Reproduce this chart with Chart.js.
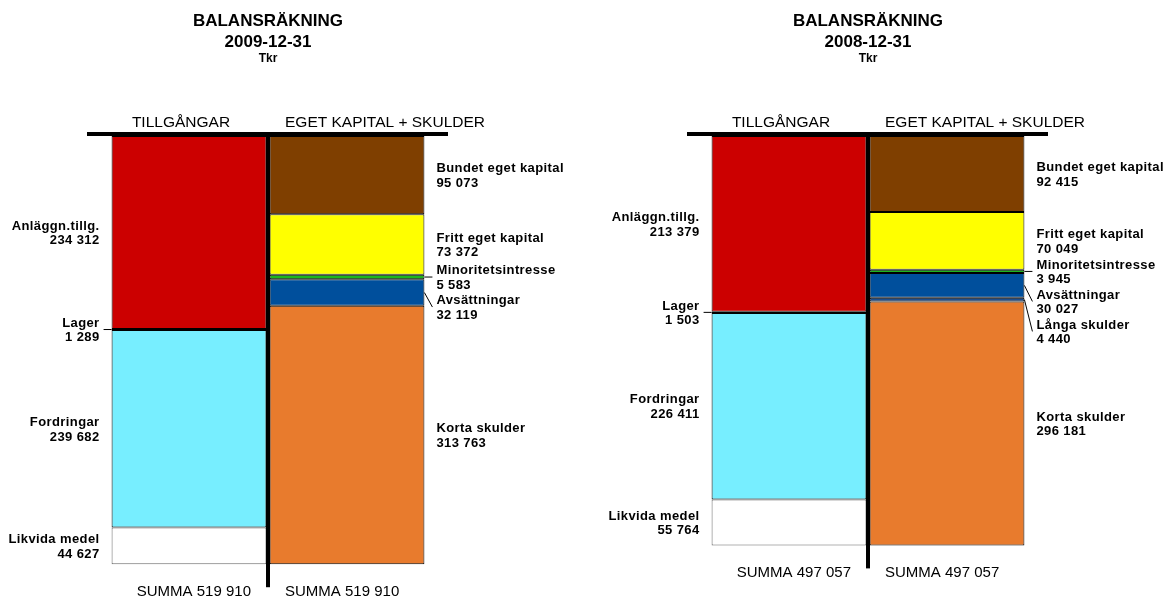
<!DOCTYPE html>
<html><head><meta charset="utf-8">
<script src="https://cdn.jsdelivr.net/npm/chart.js@4/dist/chart.umd.min.js"></script>
<style>
html,body{margin:0;padding:0;background:#fff;width:1166px;height:598px;overflow:hidden}
.box{position:absolute;top:0;width:566px;height:598px}
</style></head><body>
<div class="box" style="left:0"><canvas id="c1"></canvas></div>
<div class="box" style="left:600px"><canvas id="c2"></canvas></div>
<script>
const sides = ['TILLGÅNGAR', 'EGET KAPITAL + SKULDER'];
const dates = ['2009-12-31', '2008-12-31'];
const assetNames = ['Anläggn.tillg.', 'Lager', 'Fordringar', 'Likvida medel'];
const assetColors = ['#CC0000', '#111111', '#77EEFF', '#FFFFFF'];
const assets2009 = [234312, 1289, 239682, 44627];
const assets2008 = [213379, 1503, 226411, 55764];
const liabNames = ['Bundet eget kapital', 'Fritt eget kapital', 'Minoritetsintresse', 'Avsättningar', 'Långa skulder', 'Korta skulder'];
const liabColors = ['#7F3F00', '#FFFF00', '#1DB51D', '#004F9C', '#1E4D8C', '#E87B2D'];
const liab2009 = [95073, 73372, 5583, 32119, 0, 313763];
const liab2008 = [92415, 70049, 3945, 30027, 4440, 296181];

function fmt(n){ return String(n).replace(/\B(?=(\d{3})+(?!\d))/g, ' '); }
const FONT = '"Liberation Sans", Arial, sans-serif';

const balancePlugin = {
  id: 'balance',
  afterDatasetsDraw(chart) {
    const ctx = chart.ctx;
    const o = chart.options.plugins.balance;
    const xs = chart.scales.x, ys = chart.scales.y;
    const vx = (xs.getPixelForValue(0) + xs.getPixelForValue(1)) / 2;
    const top = chart.chartArea.top;
    const total = o.assets.reduce((a, b) => a + b, 0);
    const bottom = ys.getPixelForValue(total);
    ctx.save();
    ctx.fillStyle = '#000';
    ctx.fillRect(vx - 181, top - 4, 361, 4);
    ctx.fillRect(vx - 2, top - 4, 4, bottom + 23 - (top - 4));
    ctx.textAlign = 'center';
    ctx.textBaseline = 'alphabetic';
    ctx.font = 'bold 17px ' + FONT;
    ctx.fillText('BALANSRÄKNING', vx, 26);
    ctx.fillText(o.date, vx, 47);
    ctx.font = 'bold 12px ' + FONT;
    ctx.fillText('Tkr', vx, 62);
    ctx.font = '15.5px ' + FONT;
    ctx.fillText(sides[0], vx - 87, 127);
    ctx.fillText(sides[1], vx + 117, 127);
    ctx.font = '15px ' + FONT;
    ctx.textAlign = 'right';
    ctx.fillText('SUMMA ' + fmt(total), vx - 17, bottom + 32);
    ctx.textAlign = 'left';
    const ltotal = o.liabs.reduce((a, b) => a + b, 0);
    ctx.fillText('SUMMA ' + fmt(ltotal), vx + 17, ys.getPixelForValue(ltotal) + 32);
    ctx.font = 'bold 13px ' + FONT;
    try { ctx.letterSpacing = '0.4px'; } catch (e) {}
    ctx.strokeStyle = '#000';
    ctx.lineWidth = 1;
    [0, 1].forEach(side => {
      let prev = -1e9;
      chart.data.datasets.forEach((ds, i) => {
        if (ds.side !== side) return;
        const v = ds.data[side];
        if (!v) return;
        const el = chart.getDatasetMeta(i).data[side];
        const p = el.getProps(['x', 'y', 'base', 'width'], true);
        const y0 = Math.min(p.y, p.base), y1 = Math.max(p.y, p.base);
        const sc = (y0 + y1) / 2;
        const c = Math.max(sc, prev + 30);
        prev = c;
        const edge = side === 0 ? p.x - p.width / 2 : p.x + p.width / 2;
        const dir = side === 0 ? -1 : 1;
        if (y1 - y0 < 12 || Math.abs(c - sc) > 4) {
          ctx.beginPath();
          ctx.moveTo(edge, sc);
          ctx.lineTo(edge + dir * 8, c);
          ctx.stroke();
        }
        ctx.textAlign = side === 0 ? 'right' : 'left';
        const tx = edge + dir * 12;
        ctx.fillText(ds.label, tx, c - 2.75);
        ctx.fillText(fmt(v), tx, c + 11.75);
      });
    });
    ctx.restore();
  }
};

function makeChart(id, date, assets, liabs) {
  const datasets = [];
  assets.forEach((v, i) => datasets.push({
    label: assetNames[i], data: [v || null, null], side: 0,
    backgroundColor: assetColors[i],
    borderColor: i === 3 ? '#666666' : '#000000',
    borderWidth: 1, borderSkipped: false
  }));
  liabs.forEach((v, i) => datasets.push({
    label: liabNames[i], data: [null, v || null], side: 1,
    backgroundColor: liabColors[i], borderColor: '#000000',
    borderWidth: 1, borderSkipped: false
  }));
  return new Chart(document.getElementById(id), {
    type: 'bar',
    data: { labels: sides, datasets },
    options: {
      responsive: true, maintainAspectRatio: false, animation: false,
      layout: { padding: { top: 136, bottom: 9, left: 110, right: 140 } },
      categoryPercentage: 1, barPercentage: 0.98,
      scales: {
        x: { display: false, stacked: true },
        y: { display: false, stacked: true, reverse: true, min: 0, max: 550000 }
      },
      plugins: {
        legend: { display: false }, tooltip: { enabled: false },
        balance: { date, assets, liabs }
      }
    },
    plugins: [balancePlugin]
  });
}
makeChart('c1', dates[0], assets2009, liab2009);
makeChart('c2', dates[1], assets2008, liab2008);
</script>
</body></html>
